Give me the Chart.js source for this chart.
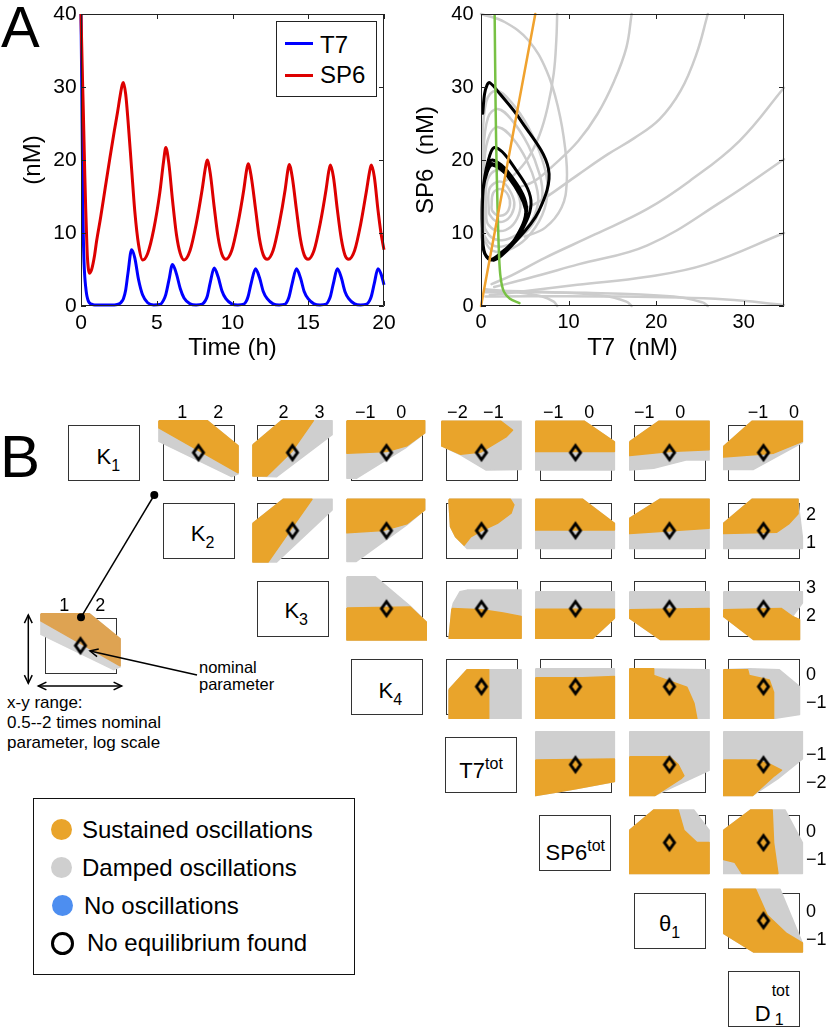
<!DOCTYPE html>
<html lang="en">
<head>
<meta charset="UTF-8">
<title>T7 / SP6 oscillator</title>
<script src="https://cdn.jsdelivr.net/npm/chart.js"></script>
<style>
  html, body { margin: 0; padding: 0; background: #fff; }
  #page { position: relative; width: 827px; height: 1027px; overflow: hidden; font-family: "Liberation Sans", Arial, sans-serif; color: #000; }
  #page canvas { position: absolute; }
  .abs { position: absolute; white-space: nowrap; }
  .pbox { position: absolute; width: 72px; height: 56px; box-sizing: border-box; border: 1px solid #333; background: #fff; }
  .pbox .txt { position: absolute; left: 0; right: 0; text-align: center; font-size: 22px; line-height: 22px; white-space: nowrap; }
  .sb { font-size: 16px; position: relative; top: 7px; }
  .sp { font-size: 16px; position: relative; top: -9px; }
  .st { display: inline-block; position: relative; width: 20px; height: 0; }
  .st span { position: absolute; font-size: 16px; line-height: 16px; }
  .dot { position: absolute; width: 21px; height: 21px; border-radius: 50%; box-sizing: border-box; }
  .ltxt { position: absolute; left: 48px; font-size: 24px; line-height: 24px; white-space: nowrap; }
</style>
</head>
<body>
<div id="page">
  <div class="abs" style="left:1px;top:-2px;font-size:58px;line-height:58px">A</div>
  <div class="abs" style="left:0px;top:427px;font-size:60px;line-height:60px">B</div>

  <div class="abs" style="left:276px;top:21px;width:101px;height:76px;border:1px solid #222;background:#fff;box-sizing:border-box;z-index:2">
    <div class="abs" style="left:8px;top:20px;width:28px;height:3px;background:#0000ff"></div>
    <div class="abs" style="left:43px;top:11px;font-size:24px;line-height:24px">T7</div>
    <div class="abs" style="left:8px;top:52px;width:28px;height:3px;background:#dd0000"></div>
    <div class="abs" style="left:43px;top:41px;font-size:24px;line-height:24px">SP6</div>
  </div>

  <div class="abs" style="left:199px;top:659px;font-size:16.5px;line-height:17px;z-index:2">nominal<br>parameter</div>
  <div class="abs" style="left:7px;top:693px;font-size:17px;line-height:20px;z-index:2">x-y range:<br>0.5--2 times nominal<br>parameter, log scale</div>

  <div class="abs" style="left:33px;top:798px;width:322px;height:177px;border:1.5px solid #111;box-sizing:border-box;z-index:2">
    <div class="dot" style="left:17px;top:20px;background:#e9a42b"></div>
    <div class="ltxt" style="top:19px">Sustained oscillations</div>
    <div class="dot" style="left:17px;top:58px;background:#cfcfcf"></div>
    <div class="ltxt" style="top:57px">Damped oscillations</div>
    <div class="dot" style="left:18px;top:96px;background:#4d8ef0"></div>
    <div class="ltxt" style="top:95px;left:50px">No oscillations</div>
    <div class="dot" style="left:17px;top:133px;width:23px;height:23px;border:3.5px solid #000"></div>
    <div class="ltxt" style="top:132px;left:53px">No equilibrium found</div>
  </div>
</div>

<script>
const FONT = '"Liberation Sans", Arial, sans-serif'

// panel A, time course
const timeH = [0, 0.05, 0.1, 0.15, 0.2, 0.25, 0.31, 0.37, 0.42, 0.48, 0.55, 0.7, 0.9, 1.03, 1.3, 1.6, 1.91, 2.2, 2.4, 2.6, 2.72, 2.8,
  2.95, 3.1, 3.34, 3.55, 3.8, 4.07, 4.4, 4.8, 5.2, 5.45, 5.6,
  5.8, 6.04, 6.3, 6.55, 6.8, 7.2, 7.6, 8.0, 8.2, 8.33,
  8.53, 8.79, 9.05, 9.3, 9.56, 9.95, 10.35, 10.75, 10.92, 11.03,
  11.23, 11.52, 11.78, 12.03, 12.29, 12.68, 13.08, 13.48, 13.63, 13.74,
  13.94, 14.22, 14.48, 14.73, 14.99, 15.38, 15.78, 16.18, 16.34, 16.46,
  16.66, 16.92, 17.18, 17.42, 17.67, 18.06, 18.46, 18.86, 19.04, 19.16,
  19.36, 19.6, 19.8, 20.0]
const sp6nM = [40, 35.5, 31, 27, 22.5, 18, 13.4, 9.5, 6.8, 5.2, 4.5, 5.0, 7.0, 8.9, 12.2, 16.2, 20.3, 24.0, 26.4, 29.0, 30.3, 30.6,
  29.0, 25.5, 18.8, 13.0, 8.4, 6.3, 7.2, 10.5, 15.5, 19.8, 21.7,
  19.5, 14.5, 9.8, 7.2, 6.3, 7.6, 11.2, 16.0, 18.8, 20.0,
  18.2, 13.6, 9.4, 7.1, 6.4, 7.6, 11.2, 16.0, 18.5, 19.5,
  17.8, 13.3, 9.2, 7.0, 6.4, 7.6, 11.2, 16.0, 18.3, 19.4,
  17.7, 13.2, 9.2, 7.0, 6.4, 7.6, 11.2, 16.0, 18.3, 19.3,
  17.7, 13.2, 9.2, 7.0, 6.4, 7.6, 11.2, 16.0, 18.3, 19.3,
  17.7, 13.2, 10.0, 7.7]
const t7nM = [40, 30, 19, 10, 6, 4, 2.6, 1.6, 1.1, 0.7, 0.45, 0.25, 0.15, 0.15, 0.15, 0.15, 0.15, 0.15, 0.2, 0.4, 0.7, 1.0,
  2.2, 4.5, 7.7, 6.6, 3.6, 1.5, 0.45, 0.15, 0.2, 0.8, 1.6,
  3.5, 5.7, 4.4, 2.4, 1.1, 0.3, 0.15, 0.25, 0.7, 1.3,
  3.2, 5.2, 4.0, 2.1, 1.0, 0.3, 0.15, 0.25, 0.7, 1.3,
  3.1, 5.1, 3.9, 2.0, 1.0, 0.3, 0.15, 0.25, 0.7, 1.3,
  3.1, 5.1, 3.9, 2.0, 1.0, 0.3, 0.15, 0.25, 0.7, 1.3,
  3.1, 5.1, 3.9, 2.0, 1.0, 0.3, 0.15, 0.25, 0.7, 1.3,
  3.1, 5.1, 4.4, 2.9]
const timeTicks = [0, 5, 10, 15, 20]
const concTicks = [0, 10, 20, 30, 40]
const t7Ticks = [0, 10, 20, 30]

// panel A, phase plane (T7 nM, SP6 nM)
const orangeNullcline = [[0, 0], [3.1, 20], [6.2, 40]]
const greenNullcline = [[1.56, 39.8], [1.67, 27.2], [1.8, 18], [2.0, 8.9], [2.2, 4.3], [2.6, 2.0], [3.3, 1.0], [4.4, 0.4]]
const grayPaths = [
  [[0, 40], [2.7, 38.9], [5.4, 36.4], [7.5, 32.2], [8.8, 27.2], [9.6, 21.7], [9.8, 17.1], [9.2, 13.5], [7.3, 10.7], [5, 9.5]],
  [[8.7, 40], [8.6, 36.4], [8.3, 31.8], [7.6, 27.2], [6.7, 23.5], [5.4, 20.3], [3.8, 18], [2.7, 17.1]],
  [[17.2, 40], [16.6, 35.4], [15.2, 30.8], [13.3, 26.3], [11.1, 22.6], [8.4, 19.4], [6.1, 17.1], [4.2, 16.2]],
  [[25.9, 40], [24.6, 34.5], [22.8, 29.5], [20.4, 25.6], [17.5, 23], [14.5, 20.8], [11.1, 18], [7.3, 14.8], [5.4, 13.5]],
  [[34.6, 29.9], [29.5, 22.6], [23.8, 17.1], [19, 13.3], [13, 9.8], [7.3, 6.6], [3.5, 4.2], [1.2, 3]],
  [[34.6, 20.1], [27.6, 14.4], [19, 8.3], [11.1, 5.7], [5.4, 3.8], [1.5, 2.6]],
  [[34.6, 10], [25.7, 5.7], [19, 4.0], [11, 2.9], [3.5, 1.8], [1, 1.5]],
  [[0.5, 2.3], [4, 1.9], [7, 1.3], [8.3, 0.6], [8.7, 0]],
  [[0.5, 2.1], [8, 1.9], [14, 1.4], [16.6, 0.6], [17.2, 0]],
  [[0.5, 1.9], [12, 1.8], [22, 1.3], [25.3, 0.5], [25.9, 0]],
  [[0.5, 1.3], [15, 1.3], [28, 0.9], [34.6, 0.15]]
]
const grayLoops = [
  [[0.2, 10], [0.2, 22], [0.6, 28], [1.7, 29.5], [3.4, 28], [5.4, 24.5], [7.0, 20], [7.6, 16], [7.0, 12.5], [5.2, 9.3], [3.0, 7.6], [1.3, 7.6], [0.4, 9], [0.2, 10]],
  [[0.3, 10], [0.3, 21], [0.8, 25.8], [1.9, 27], [3.5, 25.5], [5.4, 22], [6.7, 18], [7.0, 15], [6.2, 11.8], [4.5, 9.4], [2.6, 8.2], [1.2, 8.4], [0.4, 9.6], [0.3, 10]],
  [[0.4, 11], [0.4, 20], [1, 23.5], [2, 24.5], [3.6, 23], [5.2, 20], [6.3, 16.5], [6.5, 14], [5.6, 11.3], [4, 9.7], [2.4, 9], [1.2, 9.4], [0.5, 10.5], [0.4, 11]],
  [[0.6, 12], [0.6, 16.5], [1.2, 18.2], [2.2, 18.6], [3.3, 17.6], [4.2, 15.5], [4.5, 13.5], [3.9, 11.5], [2.8, 10.4], [1.6, 10.4], [0.8, 11.2], [0.6, 12]],
  [[0.9, 12.8], [0.9, 15.8], [1.5, 16.8], [2.4, 17], [3.2, 16], [3.8, 14.2], [3.5, 12.6], [2.6, 11.6], [1.6, 11.7], [1.0, 12.5], [0.9, 12.8]],
  [[1.2, 13.5], [1.4, 15.5], [2.3, 16], [3.1, 15.2], [3.3, 13.8], [2.8, 12.6], [1.9, 12.4], [1.3, 13], [1.2, 13.5]]
]

// panel B, log2 parameter values (nominal) and tick labels
const nominalLog2 = [1.4, 1.45, 2.25, -0.41, -1.33, -0.38, -0.3, -0.85]
const paramTicks = [[1, 2], [1, 2], [2, 3], [-1, 0], [-2, -1], [-1, 0], [-1, 0], [-1, 0]]
const paramLabels = [
  'K<span class="sb">1</span>', 'K<span class="sb">2</span>', 'K<span class="sb">3</span>', 'K<span class="sb">4</span>',
  'T7<span class="sp">tot</span>', 'SP6<span class="sp">tot</span>', '\u03b8<span class="sb">1</span>',
  'D<span class="st"><span style="left:1px;top:-38px">tot</span><span style="left:4px;top:-9px">1</span></span>'
]
const labelBaseline = [39.8, 39, 37.6, 40, 42.3, 45.7, 39.4, 51.2]
const labelShift = [4, 4, 3.5, 3.5, 0, 0, 0, 9]

// regions, offsets from nominal in log2 units: damped = whole sampled area, sustained drawn over it
const dampK1 = [
  [[-1.1, 1.14], [0.24, 1.14], [1.1, 0.24], [1.1, -0.76], [0.92, -0.86], [-1.1, 0.4]],
  [[-1.1, 0.28], [-0.3, 1.14], [1.1, 1.14], [1.1, 0.64], [-0.44, -0.86], [-1.1, -0.84]],
  [[-1.1, 1.14], [1.06, 1.14], [1.06, 0.7], [0.56, 0.2], [-0.84, -0.92], [-1.1, -0.92]],
  [[-1.11, 1.12], [1.1, 1.12], [1.1, -0.6], [0.12, -0.62], [-0.58, -0.08], [-1.11, 0.24]],
  [[-1.11, 1.12], [0.24, 1.12], [1.08, 0.38], [1.08, -0.62], [-1.11, -0.62]],
  [[-1.11, 0.38], [-0.3, 1.12], [1.1, 1.12], [1.1, -0.26], [0.48, -0.26], [-0.44, -0.56], [-1.11, -0.62]],
  [[-1.11, 0.22], [-0.32, 1.12], [1.08, 1.12], [1.08, 0.36], [-0.28, -0.6], [-1.11, -0.6]]
]
const sustK1 = [
  [[-1.1, 1.14], [0.24, 1.14], [1.1, 0.24], [1.1, -0.72], [-1.1, 0.88]],
  [[-1.1, 0.28], [-0.3, 1.14], [0.58, 1.14], [-0.02, 0.04], [-0.72, -0.84], [-1.1, -0.84]],
  [[-1.1, 1.14], [1.06, 1.14], [1.06, 0.7], [0.56, 0.24], [0, 0.04], [-1.1, -0.02]],
  [[-1.11, 1.12], [0.54, 1.12], [0.86, 0.8], [0.68, 0.56], [-0.02, 0.02], [-0.58, -0.06], [-1.11, 0.24]],
  [[-1.11, 1.12], [0.24, 1.12], [1.08, 0.38], [1.08, 0.04], [-1.11, 0.04]],
  [[-1.11, 0.38], [-0.3, 1.12], [1.1, 1.12], [1.1, 0.1], [0, 0.04], [-1.11, -0.1]],
  [[-1.11, 0.22], [-0.32, 1.12], [1.08, 1.12], [1.08, 0.4], [0.28, -0.02], [-1.11, -0.16]]
]
const dampK2 = [
  [[-1.1, 0.26], [-0.26, 1.12], [1.1, 1.12], [1.1, 0.74], [-0.44, -1.12], [-1.1, -1.12]],
  [[-1.1, 1.12], [1.06, 1.12], [1.06, 0.74], [0.56, 0.2], [-0.84, -1.1], [-1.1, -1.1]],
  [[-0.9, 1.12], [1.1, 1.12], [1.1, -0.64], [-0.4, -0.64], [-0.72, -0.22], [-0.86, 0.14], [-0.9, 0.98]],
  [[-1.11, 1.12], [0.2, 1.12], [1.08, 0.26], [1.08, -0.64], [-1.11, -0.64]],
  [[-1.11, 0.44], [-0.26, 1.12], [1.1, 1.12], [1.1, -0.64], [-1.11, -0.64]],
  [[-1.11, 0.26], [-0.32, 1.12], [0.96, 1.12], [1.0, 0.6], [1.08, -0.24], [1.08, -0.64], [-1.11, -0.64]]
]
const sustK2 = [
  [[-1.1, 0.26], [-0.26, 1.12], [0.54, 1.12], [-0.06, 0.02], [-0.68, -1.12], [-1.1, -1.12]],
  [[-1.1, 1.12], [1.06, 1.12], [1.06, 0.74], [0.56, 0.24], [-0.1, 0], [-1.1, -0.08]],
  [[-0.9, 1.12], [0.8, 1.12], [0.9, 0.92], [0.82, 0.62], [0.44, 0.26], [-0.02, -0.02], [-0.3, -0.22], [-0.48, -0.52], [-0.72, -0.22], [-0.86, 0.14], [-0.9, 0.98]],
  [[-1.11, 1.12], [0.2, 1.12], [1.08, 0.26], [1.08, 0.02], [-1.11, 0.02]],
  [[-1.11, 0.44], [-0.26, 1.12], [1.1, 1.12], [1.1, 0.08], [-1.11, -0.1]],
  [[-1.11, 0.26], [-0.32, 1.12], [0.96, 1.12], [0.96, 0.6], [0.7, 0.24], [0.36, -0.06], [-1.11, -0.1]]
]
const dampK3 = [
  [[-1.1, 1.14], [-0.32, 1.14], [0.66, 0.08], [1.12, -0.5], [1.12, -1.12], [-1.1, -1.12]],
  [[-0.78, 0.2], [-0.6, 0.6], [-0.4, 0.66], [1.1, 0.66], [1.1, -1.06], [-0.9, -1.06], [-0.82, 0]],
  [[-1.11, 0.6], [1.08, 0.6], [1.08, -0.34], [0.48, -1.06], [-1.11, -1.06]],
  [[-1.11, 0.6], [1.1, 0.6], [1.1, -1.1], [-0.26, -1.1], [-1.11, -0.34]],
  [[-1.11, 0.6], [1.08, 0.6], [1.08, 0.2], [0.8, -0.28], [1.0, -0.4], [1.0, -1.1], [-0.28, -1.1], [-1.11, -0.28]]
]
const sustK3 = [
  [[-1.1, 0.02], [0.66, 0.06], [1.12, -0.5], [1.12, -1.12], [-1.1, -1.12]],
  [[-0.82, 0], [0, -0.04], [0.6, -0.16], [1.1, -0.28], [1.1, -1.06], [-0.9, -1.06]],
  [[-1.11, -0.02], [1.08, -0.02], [1.08, -0.34], [0.48, -1.06], [-1.11, -1.06]],
  [[-1.11, -0.04], [1.1, 0], [1.1, -1.1], [-0.26, -1.1], [-1.11, -0.34]],
  [[-1.11, -0.04], [0.5, 0], [0.8, -0.28], [1.0, -0.4], [1.0, -1.1], [-0.28, -1.1], [-1.11, -0.28]]
]
const dampK4 = [
  [[-0.9, -0.1], [-0.4, 0.6], [1.1, 0.6], [1.1, -1.14], [-0.9, -1.14]],
  [[-1.11, 0.64], [1.08, 0.64], [1.08, -1.14], [-1.11, -1.14]],
  [[-1.11, 0.64], [1.1, 0.6], [1.1, -1.14], [-1.11, -1.14]],
  [[-1.11, 0.6], [-0.4, 0.64], [0.44, 0.6], [1.0, 0], [1.0, -1.0], [0.28, -1.14], [-1.11, -1.14]]
]
const sustK4 = [
  [[-0.9, -0.1], [-0.4, 0.6], [0.2, 0.6], [0.2, -1.14], [-0.9, -1.14]],
  [[-1.11, 0.32], [0.2, 0.32], [1.08, 0.36], [1.08, -1.14], [-1.11, -1.14]],
  [[-1.11, 0.64], [-0.44, 0.64], [-0.44, 0.4], [0.48, -0.02], [0.68, -0.6], [0.76, -1.14], [-1.11, -1.14]],
  [[-1.11, 0.6], [-0.44, 0.6], [-0.4, 0.4], [0.16, 0.24], [0.28, -0.2], [0.28, -1.14], [-1.11, -1.14]]
]
const dampT7 = [
  [[-1.11, 1.18], [1.08, 1.18], [1.08, -0.6], [0, -0.86], [-0.6, -1.0], [-1.11, -1.1]],
  [[-1.11, 1.18], [1.1, 1.18], [1.1, -0.2], [0.5, -0.56], [-0.4, -1.1], [-1.11, -1.1]],
  [[-1.11, 1.18], [1.08, 1.18], [1.08, 0.2], [0.4, -0.5], [-0.3, -1.1], [-1.11, -1.1]]
]
const sustT7 = [
  [[-1.11, 0.16], [1.08, 0.2], [1.08, -0.6], [0, -0.86], [-0.6, -1.0], [-1.11, -1.1]],
  [[-1.11, 0.28], [0, 0.28], [0.24, 0], [0.4, -0.4], [0.32, -0.5], [-0.4, -1.1], [-1.11, -1.1]],
  [[-1.11, 0.16], [-0.2, 0.16], [0.2, 0], [0.5, -0.2], [0.3, -0.4], [-0.3, -1.1], [-1.11, -1.1]]
]
const dampSP6 = [
  [[-1.11, 0.44], [-0.44, 1.16], [0.68, 1.16], [1.1, 0.44], [1.1, -1.1], [-1.11, -1.1]],
  [[-1.11, 0.44], [-0.36, 1.16], [0.6, 1.16], [1.08, 0], [1.08, -1.1], [-1.11, -1.1]]
]
const sustSP6 = [
  [[-1.11, 0.44], [-0.44, 1.16], [0.24, 1.16], [0.4, 0.44], [0.76, 0], [1.1, 0], [1.1, -1.1], [-1.11, -1.1]],
  [[-1.11, 0.44], [-0.36, 1.16], [0.24, 1.16], [0.28, 0], [0.4, -1.1], [-0.6, -1.1], [-0.8, -0.7], [-1.11, -0.6]]
]
const dampTheta = [
  [[-1.11, 1.12], [0.46, 1.12], [1.08, -0.8], [1.08, -1.12], [-0.28, -1.12], [-1.11, -0.46]]
]
const sustTheta = [
  [[-1.11, 1.12], [-0.22, 1.12], [0.1, 0.2], [0.64, -0.46], [1.08, -0.8], [1.08, -1.12], [-0.28, -1.12], [-1.11, -0.46]]
]

window.onload = () => {
  Chart.defaults.font.family = FONT
  Chart.defaults.color = '#000'
  const page = document.getElementById('page')

  function addCanvas(left, top, w, h) {
    const c = document.createElement('canvas')
    c.width = w
    c.height = h
    c.style.left = left + 'px'
    c.style.top = top + 'px'
    c.style.width = w + 'px'
    c.style.height = h + 'px'
    page.appendChild(c)
    return c
  }

  // fixed axis size, no label overflow padding
  function fixSize(s, size, horizontal) {
    if (horizontal) s.height = size
    else s.width = size
    s.paddingTop = 0
    s.paddingBottom = 0
    s.paddingLeft = 0
    s.paddingRight = 0
  }

  // frame with inward ticks, matlab style
  const frameTicks = {
    id: 'frameTicks',
    afterDraw(chart) {
      const { ctx, chartArea: a } = chart
      const x = chart.scales.x, y = chart.scales.y
      ctx.save()
      ctx.strokeStyle = '#222'
      ctx.lineWidth = 1
      ctx.beginPath()
      ctx.rect(Math.round(a.left) + 0.5, Math.round(a.top) + 0.5, Math.round(a.right - a.left) - 1, Math.round(a.bottom - a.top) - 1)
      for (const t of x.ticks) {
        const px = Math.round(x.getPixelForValue(t.value)) + 0.5
        ctx.moveTo(px, a.bottom); ctx.lineTo(px, a.bottom - 5)
        ctx.moveTo(px, a.top); ctx.lineTo(px, a.top + 5)
      }
      for (const t of y.ticks) {
        const py = Math.round(y.getPixelForValue(t.value)) + 0.5
        ctx.moveTo(a.left, py); ctx.lineTo(a.left + 5, py)
        ctx.moveTo(a.right, py); ctx.lineTo(a.right - 5, py)
      }
      ctx.stroke()
      ctx.restore()
    }
  }

  function axisA(min, max, ticks, size, tickFont, tickPad, title, titlePad, horizontal) {
    return {
      type: 'linear', min: min, max: max,
      grid: { display: false, drawTicks: false }, border: { display: false },
      ticks: { font: { size: tickFont }, color: '#000', padding: tickPad, maxRotation: 0, autoSkip: false },
      afterBuildTicks: s => { s.ticks = ticks.map(v => ({ value: v })) },
      afterFit: s => fixSize(s, size, horizontal),
      title: { display: true, text: title, font: { size: 24 }, color: '#000', padding: titlePad }
    }
  }

  const line = (pts, color, width, tension) => ({
    data: pts, showLine: true, borderColor: color, borderWidth: width, pointRadius: 0,
    tension: tension, fill: false, clip: 4, borderCapStyle: 'round', borderJoinStyle: 'round'
  })

  // time course
  new Chart(addCanvas(0, 0, 400, 370), {
    type: 'line',
    data: {
      datasets: [
        { label: 'SP6', data: timeH.map((t, i) => ({ x: t, y: sp6nM[i] })), borderColor: '#dd0000', borderWidth: 3, pointRadius: 0, cubicInterpolationMode: 'monotone', clip: 4 },
        { label: 'T7', data: timeH.map((t, i) => ({ x: t, y: t7nM[i] })), borderColor: '#0000ff', borderWidth: 3, pointRadius: 0, cubicInterpolationMode: 'monotone', clip: 4 }
      ]
    },
    options: {
      responsive: false, animation: false, events: [],
      layout: { padding: { top: 14, right: 16, left: 0, bottom: 0 }, autoPadding: false },
      plugins: { legend: { display: false }, tooltip: { enabled: false } },
      scales: {
        x: axisA(0, 20, timeTicks, 64, 21, 4.7, 'Time (h)', { top: 0, bottom: 7.6 }, true),
        y: axisA(0, 40, concTicks, 81, 21, 4.3, '(nM)', { top: 18.6, bottom: 0 }, false)
      }
    },
    plugins: [frameTicks]
  })

  // phase plane
  const toXY = arr => arr.map(p => ({ x: p[0], y: p[1] }))
  const start = timeH.indexOf(2.4)
  const blackLoop = timeH.slice(start).map((t, k) => ({ x: t7nM[start + k], y: sp6nM[start + k] }))
  const phaseSets = [
    line(toXY(orangeNullcline), '#f0a22e', 2.5, 0),
    line(toXY(greenNullcline), '#78c144', 2.5, 0.3),
    line(blackLoop, '#000000', 3, 0.35)
  ]
  grayLoops.forEach(p => phaseSets.push(line(toXY(p), '#cccccc', 2.5, 0.4)))
  grayPaths.forEach(p => phaseSets.push(line(toXY(p), '#cccccc', 2.5, 0.4)))
  new Chart(addCanvas(400, 0, 427, 370), {
    type: 'scatter',
    data: { datasets: phaseSets },
    options: {
      responsive: false, animation: false, events: [],
      layout: { padding: { top: 14, right: 43, left: 0, bottom: 0 }, autoPadding: false },
      plugins: { legend: { display: false }, tooltip: { enabled: false } },
      scales: {
        x: axisA(0, 34.6, t7Ticks, 64, 20, 4.7, 'T7  (nM)', { top: 0, bottom: 7.6 }, true),
        y: axisA(0, 40, concTicks, 81, 20, 7.5, 'SP6  (nM)', { top: 12.3, bottom: 0 }, false)
      }
    },
    plugins: [frameTicks]
  })

  // panel B
  const diamondMark = document.createElement('canvas')
  diamondMark.width = 18
  diamondMark.height = 26
  const dctx = diamondMark.getContext('2d')
  dctx.lineWidth = 3
  dctx.strokeStyle = '#000'
  dctx.beginPath()
  dctx.moveTo(9, 6); dctx.lineTo(14, 13); dctx.lineTo(9, 20); dctx.lineTo(4, 13)
  dctx.closePath()
  dctx.stroke()

  const PX_X = 36, PX_Y = 28, X_PAD = 1.125, Y_LO = 1.157, Y_HI = 1.2
  const TOP_AXIS = 22, RIGHT_AXIS = 30
  const CELL_W = 81 + RIGHT_AXIS, CELL_H = 66 + TOP_AXIS
  const fmtTick = v => (v < 0 ? '\u2212' + (-v) : String(v))
  const colLeft = c => 68.3 + 94.2 * c
  const rowTop = r => 424.5 + 78 * r

  function drawCell(boxLeft, boxTop, xi, yi, damped, sustained, showX, showY, colors) {
    const nx = nominalLog2[xi], ny = nominalLog2[yi]
    const cv = addCanvas(Math.round(boxLeft - PX_X * (X_PAD - 1)), Math.round(boxTop - PX_Y * (Y_HI - 1) - TOP_AXIS), CELL_W, CELL_H)
    const pts = poly => poly.concat([poly[0]]).map(p => ({ x: nx + p[0], y: ny + p[1] }))
    const region = (poly, color) => ({
      data: pts(poly), showLine: true, fill: 'shape', backgroundColor: color, borderColor: color,
      borderWidth: 1.5, borderJoinStyle: 'round', pointRadius: 0, tension: 0
    })
    new Chart(cv, {
      type: 'scatter',
      data: {
        datasets: [
          { data: [{ x: nx, y: ny }], pointStyle: diamondMark, pointRadius: 8, showLine: false },
          region(sustained, colors.sust),
          region(damped, colors.damp)
        ]
      },
      options: {
        responsive: false, animation: false, events: [],
        layout: { padding: 0, autoPadding: false },
        plugins: { legend: { display: false }, tooltip: { enabled: false } },
        scales: {
          x: {
            type: 'linear', position: 'top', min: nx - X_PAD, max: nx + X_PAD,
            grid: { display: false, drawTicks: false }, border: { display: false },
            ticks: { display: showX, font: { size: 18 }, color: '#000', padding: -5, maxRotation: 0, autoSkip: false, callback: fmtTick },
            afterBuildTicks: s => { s.ticks = paramTicks[xi].map(v => ({ value: v })) },
            afterFit: s => fixSize(s, TOP_AXIS, true)
          },
          y: {
            type: 'linear', position: 'right', min: ny - Y_LO, max: ny + Y_HI,
            grid: { display: false, drawTicks: false }, border: { display: false },
            ticks: { display: showY, font: { size: 18 }, color: '#000', padding: 2, autoSkip: false, callback: fmtTick },
            afterBuildTicks: s => { s.ticks = paramTicks[yi].map(v => ({ value: v })) },
            afterFit: s => fixSize(s, RIGHT_AXIS, false)
          }
        }
      },
      plugins: [{
        id: 'cellFrame',
        beforeDatasetsDraw(chart) {
          const { ctx } = chart
          const x = chart.scales.x, y = chart.scales.y
          const l = Math.round(x.getPixelForValue(nx - 1)) + 0.5
          const r = Math.round(x.getPixelForValue(nx + 1)) - 0.5
          const t = Math.round(y.getPixelForValue(ny + 1)) + 0.5
          const b = Math.round(y.getPixelForValue(ny - 1)) - 0.5
          ctx.save()
          ctx.strokeStyle = '#333'
          ctx.lineWidth = 1
          ctx.strokeRect(l, t, r - l, b - t)
          ctx.restore()
        }
      }]
    })
  }

  const mainColors = { sust: '#e9a42b', damp: '#cfcfcf' }
  const insetColors = { sust: '#dea352', damp: '#d5d5d5' }
  const dampRows = [dampK1, dampK2, dampK3, dampK4, dampT7, dampSP6, dampTheta]
  const sustRows = [sustK1, sustK2, sustK3, sustK4, sustT7, sustSP6, sustTheta]
  for (let r = 0; r < 7; r++) {
    for (let c = r + 1; c < 8; c++) {
      drawCell(colLeft(c), rowTop(r), c, r, dampRows[r][c - r - 1], sustRows[r][c - r - 1], r === 0, c === 7 && r > 0, mainColors)
    }
  }
  drawCell(44, 618, 1, 0, dampK1[0], sustK1[0], true, false, insetColors)

  // diagonal parameter names
  paramLabels.forEach((html, r) => {
    const box = document.createElement('div')
    box.className = 'pbox'
    box.style.left = colLeft(r) + 'px'
    box.style.top = rowTop(r) + 'px'
    const txt = document.createElement('div')
    txt.className = 'txt'
    txt.style.top = (labelBaseline[r] - 18.6 - 1) + 'px'
    txt.style.paddingLeft = (2 * labelShift[r]) + 'px'
    txt.innerHTML = html
    box.appendChild(txt)
    page.appendChild(box)
  })

  // annotation arrows
  const NS = 'http://www.w3.org/2000/svg'
  const svg = document.createElementNS(NS, 'svg')
  svg.setAttribute('width', 827)
  svg.setAttribute('height', 1027)
  svg.style.position = 'absolute'
  svg.style.left = '0px'
  svg.style.top = '0px'
  svg.style.zIndex = 3
  const add = (tag, attrs) => {
    const el = document.createElementNS(NS, tag)
    for (const k in attrs) el.setAttribute(k, attrs[k])
    svg.appendChild(el)
  }
  const stroke = { stroke: '#000', 'stroke-width': 1.5, fill: 'none' }
  const head = (tx, ty, fx, fy) => {
    const a = Math.atan2(ty - fy, tx - fx), L = 9, w = 0.45
    return 'M' + (tx - L * Math.cos(a - w)) + ' ' + (ty - L * Math.sin(a - w)) + ' L' + tx + ' ' + ty +
      ' L' + (tx - L * Math.cos(a + w)) + ' ' + (ty - L * Math.sin(a + w))
  }
  add('line', Object.assign({ x1: 81, y1: 617.3, x2: 154.3, y2: 495 }, stroke))
  add('circle', { cx: 81, cy: 617.3, r: 4, fill: '#000' })
  add('circle', { cx: 154.3, cy: 495, r: 4, fill: '#000' })
  add('line', Object.assign({ x1: 197, y1: 675, x2: 90, y2: 651 }, stroke))
  add('path', Object.assign({ d: head(90, 651, 197, 675) }, stroke))
  add('line', Object.assign({ x1: 28.3, y1: 615, x2: 28.3, y2: 683.3 }, stroke))
  add('path', Object.assign({ d: head(28.3, 615, 28.3, 683.3) + ' ' + head(28.3, 683.3, 28.3, 615) }, stroke))
  add('line', Object.assign({ x1: 38.3, y1: 686, x2: 121.7, y2: 686 }, stroke))
  add('path', Object.assign({ d: head(38.3, 686, 121.7, 686) + ' ' + head(121.7, 686, 38.3, 686) }, stroke))
  page.appendChild(svg)
}
</script>
</body>
</html>
